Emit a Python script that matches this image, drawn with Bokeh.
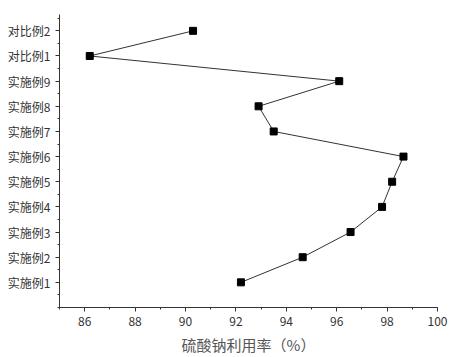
from bokeh.plotting import figure
from bokeh.models import FixedTicker, Range1d
from bokeh.embed import file_html
from bokeh.resources import INLINE

categories = ["实施例1", "实施例2", "实施例3", "实施例4", "实施例5", "实施例6",
              "实施例7", "实施例8", "实施例9", "对比例1", "对比例2"]
utilization = [92.2, 94.65, 96.55, 97.8, 98.2, 98.65, 93.5, 92.9, 96.1, 86.2, 90.3]
positions = list(range(1, len(categories) + 1))
x_ticks = [86, 88, 90, 92, 94, 96, 98, 100]

p = figure(width=450, height=357, output_backend="svg", toolbar_location=None,
           x_range=Range1d(85, 100), y_range=Range1d(0, 11.65),
           min_border_left=59, min_border_right=13, min_border_top=14, min_border_bottom=48)
p.outline_line_color = None
p.grid.visible = False

p.line(utilization, positions, line_color="#333333", line_width=1)
p.scatter(utilization, positions, marker="square", size=7, color="black")

p.xaxis.ticker = FixedTicker(ticks=x_ticks, minor_ticks=list(range(85, 101)))
p.xaxis.axis_label = "硫酸钠利用率（%）"
p.xaxis.axis_label_text_font = "Noto Sans CJK SC"
p.xaxis.axis_label_text_font_style = "normal"
p.xaxis.axis_label_text_font_size = "15px"
p.xaxis.axis_label_text_color = "#555555"
p.xaxis.axis_label_standoff = 5

p.yaxis.ticker = FixedTicker(ticks=positions, minor_ticks=[i * 0.5 for i in range(0, 24)])
p.yaxis.major_label_overrides = {pos: c for pos, c in zip(positions, categories)}

for ax in (p.xaxis[0], p.yaxis[0]):
    ax.major_label_text_font = "Noto Sans CJK SC"
    ax.major_label_text_font_size = "12px"
    ax.major_label_text_color = "#333333"
    ax.axis_line_color = "#333333"
    ax.major_tick_line_color = "#333333"
    ax.minor_tick_line_color = "#333333"
    ax.major_tick_in = 0
    ax.major_tick_out = 4
    ax.minor_tick_in = 0
    ax.minor_tick_out = 2
    ax.major_label_standoff = 5

open("out.html", "w").write(file_html(p, INLINE))
